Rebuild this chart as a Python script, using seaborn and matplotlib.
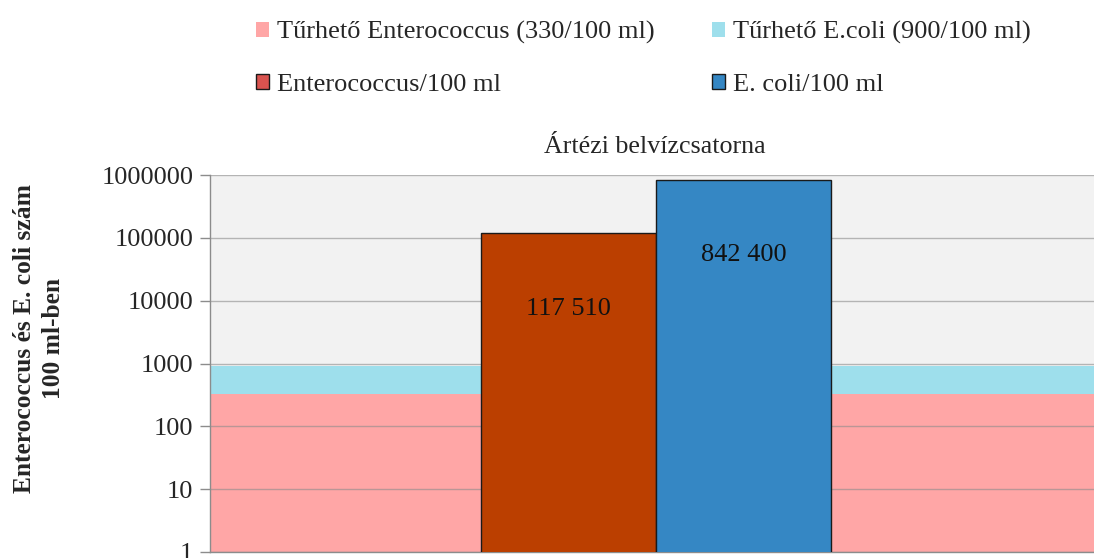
import matplotlib
matplotlib.use("Agg")
import matplotlib.pyplot as plt
import matplotlib.patches as mpatches
from matplotlib.ticker import FixedLocator, FixedFormatter, NullLocator
import pandas as pd
import seaborn as sns

sns.set_theme(style="white")
plt.rcParams["font.family"] = ["Liberation Serif", "DejaVu Serif"]

# adatok
helyszin = ["Ártézi belvízcsatorna"]
sorozatok = ["Enterococcus/100 ml", "E. coli/100 ml"]
enterococcus = [117510]
ecoli = [842400]
turheto_entero = 330
turheto_ecoli = 900
y_ticks = [1, 10, 100, 1000, 10000, 100000, 1000000]
y_labels = ["1", "10", "100", "1000", "10000", "100000", "1000000"]

df = pd.DataFrame({
    "hely": helyszin * 2,
    "sorozat": [sorozatok[0]] * len(enterococcus) + [sorozatok[1]] * len(ecoli),
    "ertek": enterococcus + ecoli,
})

bar_colors = {sorozatok[0]: "#bb3f00", sorozatok[1]: "#3587c4"}

fig = plt.figure(figsize=(10.94, 5.58), dpi=100)
ax = fig.add_axes([210 / 1094, 6 / 558, 892 / 1094, 377 / 558])
ax.set_facecolor("#f2f2f2")

sns.barplot(data=df, x="hely", y="ertek", hue="sorozat",
            hue_order=sorozatok, palette=bar_colors, width=0.392,
            edgecolor="#1a1a1a", linewidth=1, saturation=1, ax=ax,
            legend=False, zorder=3)

ax.set_yscale("log")
ax.set_ylim(1, 1000000)
ax.set_xlim(-0.5, 0.5)

# tűrhető határok
ax.axhspan(1, turheto_entero, color="#ffa6a6", zorder=0.2, lw=0)
ax.axhspan(turheto_entero, turheto_ecoli, color="#9edfec", zorder=0.2, lw=0)

ax.yaxis.set_major_locator(FixedLocator(y_ticks))
ax.yaxis.set_major_formatter(FixedFormatter(y_labels))
ax.yaxis.set_minor_locator(NullLocator())
ax.set_axisbelow(True)
ax.yaxis.grid(True, color="#8c8c8c", alpha=0.6, lw=1)
ax.tick_params(axis="y", which="major", direction="out", length=7, width=1,
               color="#8c8c8c", labelsize=19, pad=5, left=True)
ax.set_xticks([])
ax.set_xlabel("")

for s in ["top", "right"]:
    ax.spines[s].set_visible(False)
for s in ["left", "bottom"]:
    ax.spines[s].set_color("#8c8c8c")
    ax.spines[s].set_linewidth(1)

ax.set_ylabel("Enterococcus és E. coli szám\n100 ml-ben", fontsize=18.4,
              fontweight="bold", linespacing=1.32)
ax.yaxis.set_label_coords((65 - 210) / 892, 0.565)
ax.set_title(helyszin[0], fontsize=18.7, pad=15.5, x=(655 - 210) / 892)

for cont in ax.containers:
    ax.bar_label(cont, labels=[f"{v:,.0f}".replace(",", " ") for v in cont.datavalues],
                 padding=-62, fontsize=19, color="#111111")

handles = [
    mpatches.Patch(facecolor="#ffa6a6", edgecolor="none", label="Tűrhető Enterococcus (330/100 ml)"),
    mpatches.Patch(facecolor="#d9534f", edgecolor="#1a1a1a", label="Enterococcus/100 ml"),
    mpatches.Patch(facecolor="#9edfec", edgecolor="none", label="Tűrhető E.coli (900/100 ml)"),
    mpatches.Patch(facecolor="#3587c4", edgecolor="#1a1a1a", label="E. coli/100 ml"),
]
fig.legend(handles=handles, ncol=2, loc="upper left", bbox_to_anchor=(232 / 1094, 1.005),
           frameon=False, fontsize=19, handlelength=0.52, handleheight=0.52,
           handletextpad=0.3, columnspacing=2.15, labelspacing=1.12)

fig.savefig("out.png", dpi=100)
